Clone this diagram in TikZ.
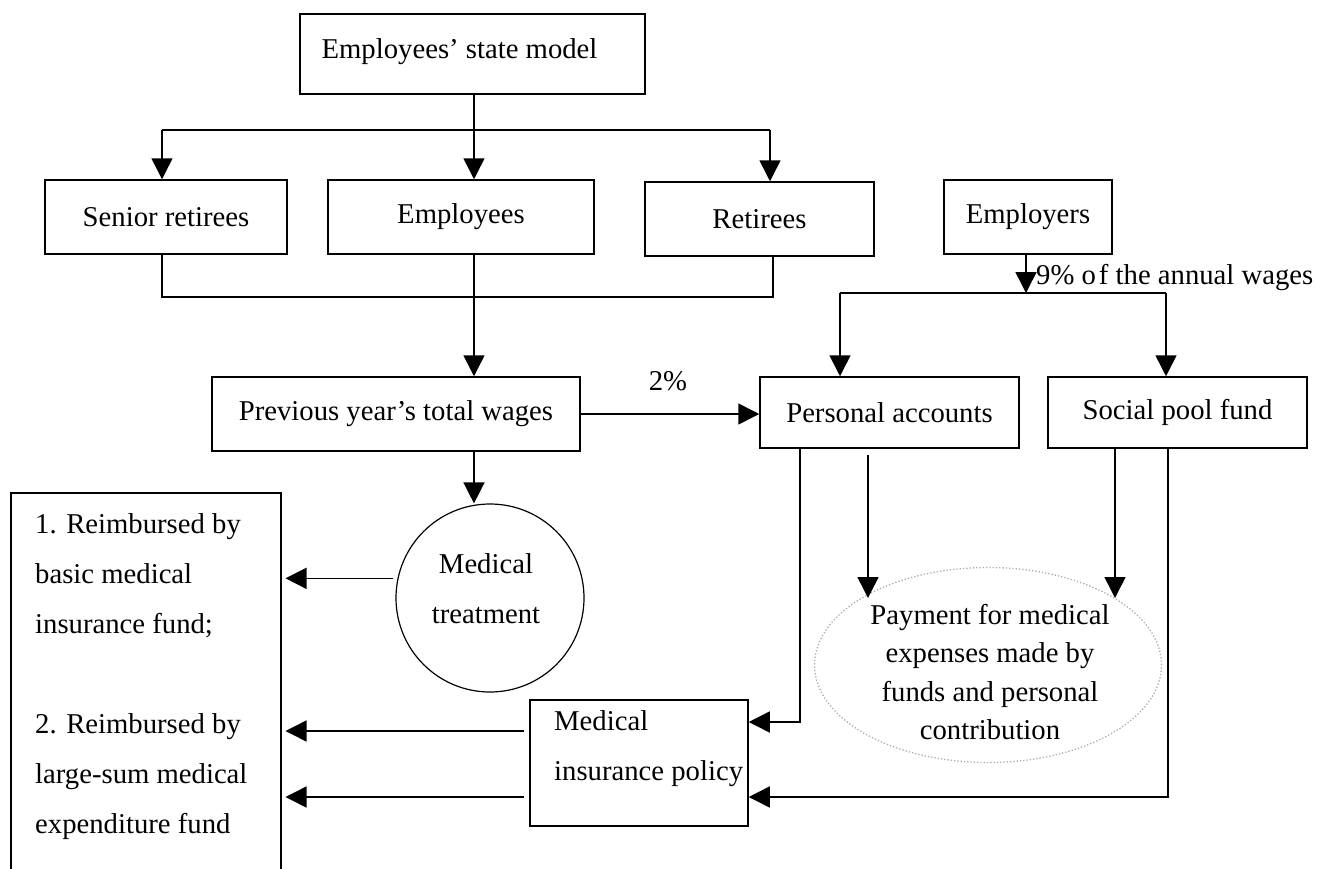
\documentclass[tikz,border=0pt]{standalone}
\usepackage{fontspec}
\setmainfont{Liberation Serif}
\usetikzlibrary{arrows.meta,shapes.geometric}
\begin{document}
\begin{tikzpicture}[x=1pt,y=-1pt,
  every node/.style={font=\fontsize{28.7}{34}\selectfont, inner sep=0pt},
  box/.style={draw, line width=1.5pt},
  ln/.style={line width=1.5pt},
  arr/.style={line width=1.5pt, -{Triangle[length=21pt,width=21pt]}},
  lines/.style={align=left, font=\fontsize{28.7}{50}\selectfont}]
\useasboundingbox (0,0) rectangle (1318,868);

% ---- boxes ----
\node[box, minimum width=345, minimum height=80] (model) at (472.5,54) {};
\node (modelt) at (459.5,52) {Employees’ state model};
\node[box, minimum width=242, minimum height=74] (sr)  at (166,217)   {Senior retirees};
\node[box, minimum width=266, minimum height=74] (emp) at (461,217)   {Employees};
\node[box, minimum width=229, minimum height=74] (ret) at (759.5,219) {Retirees};
\node[box, minimum width=168, minimum height=74] (er)  at (1028,217)  {Employers};
\node[box, minimum width=368, minimum height=74] (prev) at (396,414)  {Previous year’s total wages};
\node[box, minimum width=259, minimum height=71] (pa)  at (889.5,412.5)  {Personal accounts};
\node[box, minimum width=259, minimum height=71] (sp)  at (1177.5,412.5) {Social pool fund};

% treatment circle
\node[circle, draw, line width=1.2pt, minimum size=188] (mt) at (490,598) {};
\node[align=center, font=\fontsize{28.7}{50}\selectfont] (mtt) at (486,589) {Medical\\treatment};

% payment ellipse
\node[ellipse, draw=gray!65, dotted, line width=1.3pt,
      minimum width=347, minimum height=195] (pay) at (988,665) {};
\node[align=center, font=\fontsize{28.7}{38.5}\selectfont] (payt) at (990,672)
  {Payment for medical\\expenses made by\\funds and personal\\contribution};

% policy box
\node[box, minimum width=218, minimum height=126] (mip) at (639,763) {};
\node[lines, anchor=north west] (mipt) at (554,710) {Medical\\insurance policy};

% reimbursement box (runs past the lower edge)
\node[box, anchor=north west, minimum width=270, minimum height=400] (reim) at (10,492) {};
\node[lines, anchor=north west] (reimt) at (35,513)
  {1. Reimbursed by\\basic medical\\insurance fund;\\[50pt]2. Reimbursed by\\large-sum medical\\expenditure fund};

% ---- connectors ----
\coordinate (j0) at (474,130);
\coordinate (bl) at (162,130);
\coordinate (br) at (770,130);
\draw[ln] (j0 |- model.south) -- (j0);
\draw[ln] (bl) -- (br);
\draw[arr] (bl) -- (bl |- sr.north);
\draw[arr] (j0) -- (j0 |- emp.north);
\draw[arr] (br) -- (br |- ret.north);

\coordinate (ml) at (162,297);
\coordinate (mr) at (773,297);
\coordinate (ec) at (474,297);
\draw[ln] (ml |- sr.south) -- (ml) -- (mr) -- (mr |- ret.south);
\draw[arr] (ec |- emp.south) -- (ec |- prev.north);

\draw[arr] (prev.east) -- (prev.east -| pa.west);
\node (pct) at (668,381) {2\%};

\draw[arr] (ec |- prev.south) -- (ec |- mt.north);

\coordinate (ej) at (1026,293);
\draw[arr] (ej |- er.south) -- (ej);
\node[anchor=west] (wage) at (1036,277) {9\% o\kern3pt f the annual wages};
\coordinate (el) at (840,293);
\coordinate (erj) at (1166,293);
\draw[ln] (el) -- (erj);
\draw[arr] (el) -- (el |- pa.north);
\draw[arr] (erj) -- (erj |- sp.north);

\draw[arr, shorten <=4pt, shorten >=4pt] (mt.168) -- (mt.168 -| reim.east);
\draw[arr, shorten <=5pt, shorten >=4pt] ([yshift=32pt]mip.west) -- ([yshift=32pt]mip.west -| reim.east);
\draw[arr, shorten <=5pt, shorten >=4pt] ([yshift=-34pt]mip.west) -- ([yshift=-34pt]mip.west -| reim.east);

\coordinate (c1) at (800,722);
\draw[arr] (c1 |- pa.south) -- (c1) -- (c1 -| mip.east);
\coordinate (t1) at (868,598);
\draw[arr, shorten <=6pt] (t1 |- pa.south) -- (t1);
\coordinate (t2) at (1115,598);
\draw[arr] (t2 |- sp.south) -- (t2);
\coordinate (c2) at (1168,797);
\draw[arr] (c2 |- sp.south) -- (c2) -- (c2 -| mip.east);
\end{tikzpicture}
\end{document}
